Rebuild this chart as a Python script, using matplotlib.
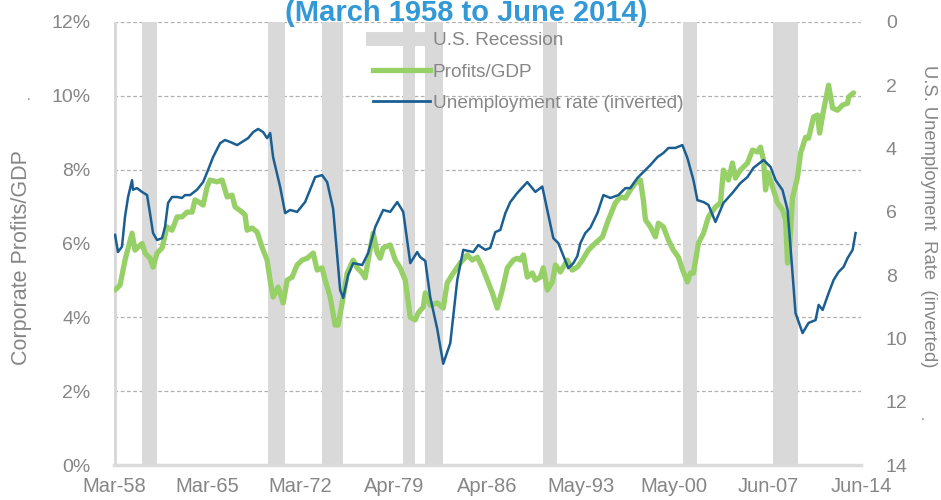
import matplotlib
matplotlib.use("Agg")
import matplotlib.pyplot as plt
from matplotlib.lines import Line2D
from matplotlib.ticker import FuncFormatter

# ---------------- data ----------------
title = "(March 1958 to June 2014)"
left_label = "Corporate Profits/GDP"
right_label = "U.S. Unemployment  Rate  (inverted)"
tick_labels = ["Mar-58", "Mar-65", "Mar-72", "Apr-79", "Apr-86",
               "May-93", "May-00", "Jun-07", "Jun-14"]
tick_years = [1958.17, 1965.17, 1972.17, 1979.25, 1986.25,
              1993.33, 2000.33, 2007.42, 2014.42]

recession_start = [1958.17, 1960.28, 1969.78, 1973.84, 1979.95,
                   1981.61, 1990.50, 2001.05, 2007.83]
recession_end = [1958.40, 1961.41, 1971.06, 1975.43, 1980.85,
                 1982.96, 1991.55, 2002.10, 2009.71]

profit_years = [
    1958.25, 1958.62, 1959.00, 1959.53, 1959.75, 1960.28, 1960.51, 1960.88,
    1961.11, 1961.41, 1961.79, 1962.16, 1962.54, 1962.92, 1963.29, 1963.67,
    1964.05, 1964.27, 1964.65, 1964.88, 1965.18, 1965.40, 1965.93, 1966.31,
    1966.69, 1967.06, 1967.29, 1967.82, 1968.04, 1968.19, 1968.57, 1968.95,
    1969.32, 1969.70, 1969.93, 1970.15, 1970.53, 1970.91, 1971.21, 1971.58,
    1971.96, 1972.34, 1972.71, 1973.17, 1973.47, 1973.84, 1974.07, 1974.45,
    1974.82, 1975.05, 1975.43, 1975.73, 1976.18, 1976.48, 1976.86, 1977.08,
    1977.31, 1977.69, 1977.99, 1978.21, 1978.44, 1978.97, 1979.35, 1979.72,
    1980.10, 1980.48, 1980.85, 1981.08, 1981.46, 1981.61, 1981.98, 1982.51,
    1982.96, 1983.26, 1983.72, 1984.24, 1984.77, 1985.15, 1985.53, 1985.90,
    1986.28, 1986.66, 1987.03, 1987.41, 1987.79, 1988.24, 1988.54, 1988.77,
    1989.00, 1989.29, 1989.67, 1989.90, 1990.27, 1990.50, 1990.80, 1991.18,
    1991.41, 1991.78, 1992.31, 1992.68, 1993.06, 1993.44, 1993.89, 1994.42,
    1994.95, 1995.40, 1995.92, 1996.30, 1996.68, 1997.05, 1997.43, 1997.81,
    1998.03, 1998.19, 1998.56, 1998.94, 1999.16, 1999.54, 1999.92, 2000.29,
    2000.67, 2000.99, 2001.35, 2001.58, 2001.80, 2002.18, 2002.56, 2002.93,
    2003.46, 2003.84, 2004.06, 2004.44, 2004.74, 2004.96, 2005.34, 2005.87,
    2006.25, 2006.62, 2006.85, 2007.08, 2007.23, 2007.45, 2007.76, 2008.13,
    2008.51, 2008.74, 2008.89, 2009.04, 2009.26, 2009.64, 2009.87, 2010.25,
    2010.47, 2010.85, 2011.15, 2011.30, 2011.60, 2011.98, 2012.28, 2012.65,
    2013.03, 2013.41, 2013.49, 2013.86]
profit_pct = [
    4.74, 4.87, 5.55, 6.28, 5.82, 6.00, 5.74, 5.60,
    5.36, 5.74, 5.88, 6.45, 6.36, 6.72, 6.72, 6.85,
    6.85, 7.18, 7.10, 7.04, 7.53, 7.72, 7.67, 7.72,
    7.26, 7.31, 6.99, 6.85, 6.77, 6.36, 6.42, 6.31,
    5.90, 5.55, 5.00, 4.55, 4.82, 4.39, 5.01, 5.09,
    5.42, 5.55, 5.60, 5.74, 5.28, 5.34, 5.01, 4.55,
    3.79, 3.79, 4.55, 5.20, 5.55, 5.34, 5.20, 5.07,
    5.55, 6.28, 5.74, 5.60, 5.88, 5.96, 5.55, 5.34,
    5.01, 4.00, 3.93, 4.12, 4.28, 4.66, 4.33, 4.39,
    4.25, 4.93, 5.20, 5.47, 5.69, 5.55, 5.63, 5.36,
    5.01, 4.66, 4.25, 4.74, 5.34, 5.55, 5.60, 5.55,
    5.69, 5.09, 5.20, 5.01, 5.09, 5.34, 4.74, 4.96,
    5.42, 5.23, 5.55, 5.28, 5.36, 5.55, 5.82, 6.01,
    6.18, 6.64, 7.10, 7.26, 7.23, 7.45, 7.64, 7.72,
    7.18, 6.64, 6.45, 6.18, 6.55, 6.45, 6.09, 5.82,
    5.63, 5.28, 4.96, 5.20, 5.20, 6.01, 6.28, 6.72,
    6.99, 7.10, 7.99, 7.72, 8.18, 7.77, 7.99, 8.18,
    8.53, 8.48, 8.61, 8.26, 7.45, 7.91, 7.53, 7.10,
    6.91, 6.64, 5.47, 5.90, 7.23, 7.80, 8.45, 8.88,
    8.85, 9.43, 9.48, 8.99, 9.61, 10.29, 9.67, 9.61,
    9.75, 9.80, 9.97, 10.08]

unemp_years = [
    1958.25, 1958.47, 1958.77, 1959.00, 1959.23, 1959.53, 1959.60, 1959.90,
    1960.28, 1960.66, 1960.88, 1961.11, 1961.41, 1961.79, 1962.01, 1962.24,
    1962.54, 1962.92, 1963.29, 1963.52, 1963.90, 1964.42, 1964.88, 1965.25,
    1965.63, 1966.16, 1966.53, 1966.91, 1967.44, 1967.82, 1968.27, 1968.65,
    1969.02, 1969.40, 1969.70, 1969.93, 1970.15, 1970.68, 1971.06, 1971.43,
    1971.96, 1972.56, 1973.32, 1973.84, 1974.22, 1974.67, 1975.20, 1975.43,
    1975.80, 1976.18, 1976.86, 1977.31, 1977.84, 1978.44, 1978.97, 1979.50,
    1979.95, 1980.48, 1981.00, 1981.23, 1981.61, 1981.98, 1982.51, 1982.96,
    1983.49, 1984.02, 1984.47, 1985.22, 1985.60, 1986.13, 1986.50, 1986.88,
    1987.26, 1987.64, 1988.01, 1988.54, 1989.29, 1989.90, 1990.42, 1990.80,
    1991.25, 1991.63, 1992.38, 1992.76, 1993.06, 1993.29, 1993.66, 1994.04,
    1994.57, 1995.02, 1995.55, 1996.15, 1996.68, 1997.05, 1997.58, 1998.03,
    1998.56, 1999.09, 1999.54, 1999.92, 2000.44, 2000.97, 2001.35, 2001.80,
    2002.10, 2002.56, 2002.93, 2003.46, 2004.06, 2004.74, 2005.34, 2005.87,
    2006.32, 2007.08, 2007.61, 2007.98, 2008.51, 2008.89, 2009.11, 2009.49,
    2010.02, 2010.47, 2011.00, 2011.23, 2011.53, 2011.98, 2012.36, 2012.73,
    2013.11, 2013.41, 2013.79, 2014.01]
unemp_rate = [
    6.73, 7.27, 7.10, 6.15, 5.53, 5.00, 5.30, 5.25,
    5.37, 5.47, 6.04, 6.67, 6.89, 6.83, 6.48, 5.72,
    5.53, 5.53, 5.56, 5.47, 5.47, 5.30, 5.06, 4.68,
    4.27, 3.83, 3.73, 3.79, 3.89, 3.79, 3.67, 3.48,
    3.38, 3.48, 3.67, 3.51, 4.27, 5.21, 6.04, 5.94,
    6.00, 5.69, 4.90, 4.84, 5.06, 5.90, 8.47, 8.72,
    8.00, 7.62, 7.68, 7.30, 6.48, 5.94, 6.00, 5.69,
    6.00, 7.62, 7.27, 7.43, 7.55, 8.69, 9.70, 10.80,
    10.15, 8.15, 7.20, 7.27, 7.05, 7.20, 7.14, 6.64,
    6.57, 6.04, 5.69, 5.40, 5.06, 5.37, 5.20, 5.94,
    6.83, 6.99, 7.78, 7.62, 7.40, 6.99, 6.67, 6.50,
    6.04, 5.47, 5.56, 5.47, 5.25, 5.25, 4.93, 4.74,
    4.52, 4.27, 4.14, 3.98, 3.98, 3.89, 4.30, 4.99,
    5.63, 5.69, 5.78, 6.32, 5.72, 5.40, 5.09, 4.90,
    4.61, 4.36, 4.58, 4.99, 5.31, 5.94, 7.10, 9.20,
    9.83, 9.51, 9.42, 8.94, 9.10, 8.57, 8.15, 7.90,
    7.74, 7.46, 7.20, 6.67]

left_ticks = [0, 2, 4, 6, 8, 10, 12]
right_ticks = [0, 2, 4, 6, 8, 10, 12, 14]

legend_labels = ["U.S. Recession", "Profits/GDP", "Unemployment rate (inverted)"]

# ---------------- styling ----------------
GRAY_TXT = "#868686"
BAR = "#d9d9d9"
GREEN = "#97d066"
BLUE = "#1b5f92"
TITLE_BLUE = "#3399d6"

plt.rcParams["font.family"] = ["Liberation Sans", "DejaVu Sans"]

W, H = 941, 500
fig = plt.figure(figsize=(W / 100, H / 100), dpi=100)
L, R, T, B = 114, 861, 22, 465
ax = fig.add_axes([L / W, 1 - B / H, (R - L) / W, (B - T) / H])
ax2 = ax.twinx()

# recession bars
for s, e in zip(recession_start, recession_end):
    ax.axvspan(s, e, color=BAR, lw=0, zorder=1)

# grid lines
for v in left_ticks[1:]:
    ax.axhline(v, color="#b0b0b0", lw=0.9, ls=(0, (3, 2)), zorder=0.5)

ax.plot(profit_years, profit_pct, color=GREEN, lw=3.8, zorder=3,
        solid_joinstyle="round", solid_capstyle="round")
ax2.plot(unemp_years, unemp_rate, color=BLUE, lw=1.8, zorder=4,
         solid_joinstyle="round")

ax.set_xlim(tick_years[0], tick_years[-1])
ax.set_ylim(0, 12)
ax2.set_ylim(14, 0)

ax.set_xticks(tick_years)
ax.set_xticklabels(tick_labels)
ax.set_yticks(left_ticks)
ax.yaxis.set_major_formatter(FuncFormatter(lambda v, p: f"{int(v)}%"))
ax2.set_yticks(right_ticks)

for a in (ax, ax2):
    for s in a.spines.values():
        s.set_visible(False)
ax.spines["bottom"].set_visible(True)
ax.spines["bottom"].set_color("#dcdcdc")
ax.spines["bottom"].set_linewidth(2.5)

ax.tick_params(axis="x", length=0, pad=9, labelsize=14.5, colors=GRAY_TXT)
ax.tick_params(axis="y", length=0, pad=17, labelsize=14, colors=GRAY_TXT)
ax2.tick_params(axis="y", length=0, pad=18, labelsize=14, colors=GRAY_TXT)

# axis titles placed explicitly (centre positions)
fig.text(22 / W, 1 - 258 / H, left_label, rotation=90, rotation_mode="anchor",
         ha="center", va="center", color=GRAY_TXT, fontsize=15.5)
fig.text(928 / W, 1 - 216 / H, right_label, rotation=-90,
         rotation_mode="anchor", ha="center", va="center",
         color=GRAY_TXT, fontsize=13.3)

# title (partly cut at the top, as in the reference)
fig.text(466 / W, 1 - 21 / H, title, ha="center", va="baseline",
         fontsize=21, fontweight="bold", color=TITLE_BLUE)

# stray dots in the reference
fig.text(29 / W, 1 - 100 / H, ".", color=GRAY_TXT, fontsize=10, ha="center")
fig.text(923 / W, 1 - 420 / H, ".", color=GRAY_TXT, fontsize=10, ha="center")

handles = [Line2D([0], [0], color=BAR, lw=10),
           Line2D([0], [0], color=GREEN, lw=3.8),
           Line2D([0], [0], color=BLUE, lw=2)]
fig.legend(handles, legend_labels, loc="upper left",
           bbox_to_anchor=(373 / W, 1 - 32 / H), frameon=False,
           fontsize=13.7, labelcolor=GRAY_TXT, handlelength=3.0,
           handletextpad=0.15, labelspacing=0.74, borderpad=0,
           borderaxespad=0)

fig.savefig("out.png", dpi=100)
